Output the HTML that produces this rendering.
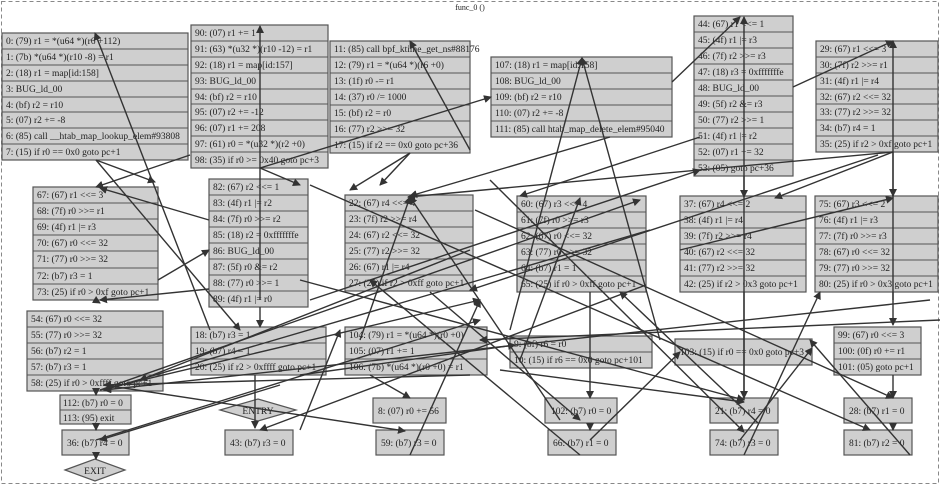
<!DOCTYPE html>
<html><head><meta charset="utf-8"><style>
html,body{margin:0;padding:0;background:#fff;}
svg{display:block;}
text{font-family:"Liberation Serif",serif;font-size:9.5px;fill:#222;}
.b{fill:#cfcfcf;stroke:#555;stroke-width:1.2;}
.r{stroke:#555;stroke-width:1;}
.e{stroke:#333;stroke-width:1.4;fill:none;}
</style></head><body>
<svg width="940" height="486" viewBox="0 0 940 486" xmlns="http://www.w3.org/2000/svg">
<defs><marker id="a" markerWidth="8" markerHeight="8" refX="7" refY="4" orient="auto" markerUnits="userSpaceOnUse"><path d="M0,0 L8,4 L0,8z" fill="#333"/></marker></defs>
<rect x="1.5" y="1.5" width="937" height="482" fill="none" stroke="#888" stroke-dasharray="4,3"/>
<text x="470" y="10" text-anchor="middle" style="font-size:8px">func_0 ()</text>

<!-- Box A -->
<rect class="b" x="2" y="33" width="186" height="127"/>
<g class="r"><line x1="2" y1="49" x2="188" y2="49"/><line x1="2" y1="65" x2="188" y2="65"/><line x1="2" y1="81" x2="188" y2="81"/><line x1="2" y1="97" x2="188" y2="97"/><line x1="2" y1="112" x2="188" y2="112"/><line x1="2" y1="128" x2="188" y2="128"/><line x1="2" y1="144" x2="188" y2="144"/></g>
<text x="6" y="44">0: (79) r1 = *(u64 *)(r6 +112)</text><text x="6" y="60">1: (7b) *(u64 *)(r10 -8) = r1</text><text x="6" y="76">2: (18) r1 = map[id:158]</text><text x="6" y="92">3: BUG_ld_00</text><text x="6" y="108">4: (bf) r2 = r10</text><text x="6" y="123">5: (07) r2 += -8</text><text x="6" y="139">6: (85) call __htab_map_lookup_elem#93808</text><text x="6" y="155">7: (15) if r0 == 0x0 goto pc+1</text>

<!-- Box B -->
<rect class="b" x="191" y="25" width="137" height="143"/>
<g class="r"><line x1="191" y1="41" x2="328" y2="41"/><line x1="191" y1="57" x2="328" y2="57"/><line x1="191" y1="73" x2="328" y2="73"/><line x1="191" y1="89" x2="328" y2="89"/><line x1="191" y1="104" x2="328" y2="104"/><line x1="191" y1="120" x2="328" y2="120"/><line x1="191" y1="136" x2="328" y2="136"/><line x1="191" y1="152" x2="328" y2="152"/></g>
<text x="195" y="36">90: (07) r1 += 1</text><text x="195" y="52">91: (63) *(u32 *)(r10 -12) = r1</text><text x="195" y="68">92: (18) r1 = map[id:157]</text><text x="195" y="84">93: BUG_ld_00</text><text x="195" y="100">94: (bf) r2 = r10</text><text x="195" y="115">95: (07) r2 += -12</text><text x="195" y="131">96: (07) r1 += 208</text><text x="195" y="147">97: (61) r0 = *(u32 *)(r2 +0)</text><text x="195" y="163">98: (35) if r0 >= 0x40 goto pc+3</text>

<!-- Box C -->
<rect class="b" x="330" y="41" width="140" height="112"/>
<g class="r"><line x1="330" y1="57" x2="470" y2="57"/><line x1="330" y1="73" x2="470" y2="73"/><line x1="330" y1="89" x2="470" y2="89"/><line x1="330" y1="105" x2="470" y2="105"/><line x1="330" y1="121" x2="470" y2="121"/><line x1="330" y1="137" x2="470" y2="137"/></g>
<text x="334" y="52">11: (85) call bpf_ktime_get_ns#88176</text><text x="334" y="68">12: (79) r1 = *(u64 *)(r6 +0)</text><text x="334" y="84">13: (1f) r0 -= r1</text><text x="334" y="100">14: (37) r0 /= 1000</text><text x="334" y="116">15: (bf) r2 = r0</text><text x="334" y="132">16: (77) r2 >>= 32</text><text x="334" y="148">17: (15) if r2 == 0x0 goto pc+36</text>

<!-- Box D -->
<rect class="b" x="491" y="57" width="181" height="80"/>
<g class="r"><line x1="491" y1="73" x2="672" y2="73"/><line x1="491" y1="89" x2="672" y2="89"/><line x1="491" y1="105" x2="672" y2="105"/><line x1="491" y1="121" x2="672" y2="121"/></g>
<text x="495" y="68">107: (18) r1 = map[id:158]</text><text x="495" y="84">108: BUG_ld_00</text><text x="495" y="100">109: (bf) r2 = r10</text><text x="495" y="116">110: (07) r2 += -8</text><text x="495" y="132">111: (85) call htab_map_delete_elem#95040</text>

<!-- Box E -->
<rect class="b" x="694" y="16" width="99" height="160"/>
<g class="r"><line x1="694" y1="32" x2="793" y2="32"/><line x1="694" y1="48" x2="793" y2="48"/><line x1="694" y1="64" x2="793" y2="64"/><line x1="694" y1="80" x2="793" y2="80"/><line x1="694" y1="96" x2="793" y2="96"/><line x1="694" y1="112" x2="793" y2="112"/><line x1="694" y1="128" x2="793" y2="128"/><line x1="694" y1="144" x2="793" y2="144"/><line x1="694" y1="160" x2="793" y2="160"/></g>
<text x="698" y="27">44: (67) r1 &lt;&lt;= 1</text><text x="698" y="43">45: (4f) r1 |= r3</text><text x="698" y="59">46: (7f) r2 >>= r3</text><text x="698" y="75">47: (18) r3 = 0xfffffffe</text><text x="698" y="91">48: BUG_ld_00</text><text x="698" y="107">49: (5f) r2 &amp;= r3</text><text x="698" y="123">50: (77) r2 >>= 1</text><text x="698" y="139">51: (4f) r1 |= r2</text><text x="698" y="155">52: (07) r1 += 32</text><text x="698" y="171">53: (05) goto pc+36</text>

<!-- Box F -->
<rect class="b" x="816" y="41" width="122" height="111"/>
<g class="r"><line x1="816" y1="57" x2="938" y2="57"/><line x1="816" y1="73" x2="938" y2="73"/><line x1="816" y1="89" x2="938" y2="89"/><line x1="816" y1="104" x2="938" y2="104"/><line x1="816" y1="120" x2="938" y2="120"/><line x1="816" y1="136" x2="938" y2="136"/></g>
<text x="820" y="52">29: (67) r1 &lt;&lt;= 3</text><text x="820" y="68">30: (7f) r2 >>= r1</text><text x="820" y="84">31: (4f) r1 |= r4</text><text x="820" y="100">32: (67) r2 &lt;&lt;= 32</text><text x="820" y="115">33: (77) r2 >>= 32</text><text x="820" y="131">34: (b7) r4 = 1</text><text x="820" y="147">35: (25) if r2 > 0xf goto pc+1</text>

<!-- Box G -->
<rect class="b" x="33" y="187" width="125" height="113"/>
<g class="r"><line x1="33" y1="203" x2="158" y2="203"/><line x1="33" y1="219" x2="158" y2="219"/><line x1="33" y1="235" x2="158" y2="235"/><line x1="33" y1="251" x2="158" y2="251"/><line x1="33" y1="268" x2="158" y2="268"/><line x1="33" y1="284" x2="158" y2="284"/></g>
<text x="37" y="198">67: (67) r1 &lt;&lt;= 3</text><text x="37" y="214">68: (7f) r0 >>= r1</text><text x="37" y="230">69: (4f) r1 |= r3</text><text x="37" y="246">70: (67) r0 &lt;&lt;= 32</text><text x="37" y="262">71: (77) r0 >>= 32</text><text x="37" y="279">72: (b7) r3 = 1</text><text x="37" y="295">73: (25) if r0 > 0xf goto pc+1</text>

<!-- Box H -->
<rect class="b" x="209" y="179" width="99" height="128"/>
<g class="r"><line x1="209" y1="195" x2="308" y2="195"/><line x1="209" y1="211" x2="308" y2="211"/><line x1="209" y1="227" x2="308" y2="227"/><line x1="209" y1="243" x2="308" y2="243"/><line x1="209" y1="259" x2="308" y2="259"/><line x1="209" y1="275" x2="308" y2="275"/><line x1="209" y1="291" x2="308" y2="291"/></g>
<text x="213" y="190">82: (67) r2 &lt;&lt;= 1</text><text x="213" y="206">83: (4f) r1 |= r2</text><text x="213" y="222">84: (7f) r0 >>= r2</text><text x="213" y="238">85: (18) r2 = 0xfffffffe</text><text x="213" y="254">86: BUG_ld_00</text><text x="213" y="270">87: (5f) r0 &amp;= r2</text><text x="213" y="286">88: (77) r0 >>= 1</text><text x="213" y="302">89: (4f) r1 |= r0</text>

<!-- Box I -->
<rect class="b" x="345" y="195" width="128" height="96"/>
<g class="r"><line x1="345" y1="211" x2="473" y2="211"/><line x1="345" y1="227" x2="473" y2="227"/><line x1="345" y1="243" x2="473" y2="243"/><line x1="345" y1="259" x2="473" y2="259"/><line x1="345" y1="275" x2="473" y2="275"/></g>
<text x="349" y="206">22: (67) r4 &lt;&lt;= 4</text><text x="349" y="222">23: (7f) r2 >>= r4</text><text x="349" y="238">24: (67) r2 &lt;&lt;= 32</text><text x="349" y="254">25: (77) r2 >>= 32</text><text x="349" y="270">26: (67) r1 |= r4</text><text x="349" y="286">27: (25) if r2 > 0xff goto pc+1</text>

<!-- Box J -->
<rect class="b" x="517" y="196" width="129" height="96"/>
<g class="r"><line x1="517" y1="212" x2="646" y2="212"/><line x1="517" y1="228" x2="646" y2="228"/><line x1="517" y1="244" x2="646" y2="244"/><line x1="517" y1="260" x2="646" y2="260"/><line x1="517" y1="276" x2="646" y2="276"/></g>
<text x="521" y="207">60: (67) r3 &lt;&lt;= 4</text><text x="521" y="223">61: (7f) r0 >>= r3</text><text x="521" y="239">62: (67) r0 &lt;&lt;= 32</text><text x="521" y="255">63: (77) r0 >>= 32</text><text x="521" y="271">64: (b7) r1 = 1</text><text x="521" y="287">65: (25) if r0 > 0xff goto pc+1</text>

<!-- Box K -->
<rect class="b" x="680" y="196" width="126" height="96"/>
<g class="r"><line x1="680" y1="212" x2="806" y2="212"/><line x1="680" y1="228" x2="806" y2="228"/><line x1="680" y1="244" x2="806" y2="244"/><line x1="680" y1="260" x2="806" y2="260"/><line x1="680" y1="276" x2="806" y2="276"/></g>
<text x="684" y="207">37: (67) r4 &lt;&lt;= 2</text><text x="684" y="223">38: (4f) r1 |= r4</text><text x="684" y="239">39: (7f) r2 >>= r4</text><text x="684" y="255">40: (67) r2 &lt;&lt;= 32</text><text x="684" y="271">41: (77) r2 >>= 32</text><text x="684" y="287">42: (25) if r2 > 0x3 goto pc+1</text>

<!-- Box L -->
<rect class="b" x="815" y="196" width="123" height="96"/>
<g class="r"><line x1="815" y1="212" x2="938" y2="212"/><line x1="815" y1="228" x2="938" y2="228"/><line x1="815" y1="244" x2="938" y2="244"/><line x1="815" y1="260" x2="938" y2="260"/><line x1="815" y1="276" x2="938" y2="276"/></g>
<text x="819" y="207">75: (67) r3 &lt;&lt;= 2</text><text x="819" y="223">76: (4f) r1 |= r3</text><text x="819" y="239">77: (7f) r0 >>= r3</text><text x="819" y="255">78: (67) r0 &lt;&lt;= 32</text><text x="819" y="271">79: (77) r0 >>= 32</text><text x="819" y="287">80: (25) if r0 > 0x3 goto pc+1</text>

<!-- Box M -->
<rect class="b" x="27" y="311" width="136" height="80"/>
<g class="r"><line x1="27" y1="327" x2="163" y2="327"/><line x1="27" y1="343" x2="163" y2="343"/><line x1="27" y1="359" x2="163" y2="359"/><line x1="27" y1="375" x2="163" y2="375"/></g>
<text x="31" y="322">54: (67) r0 &lt;&lt;= 32</text><text x="31" y="338">55: (77) r0 >>= 32</text><text x="31" y="354">56: (b7) r2 = 1</text><text x="31" y="370">57: (b7) r3 = 1</text><text x="31" y="386">58: (25) if r0 > 0xffff goto pc+1</text>

<!-- Box N -->
<rect class="b" x="191" y="327" width="135" height="48"/>
<g class="r"><line x1="191" y1="343" x2="326" y2="343"/><line x1="191" y1="359" x2="326" y2="359"/></g>
<text x="195" y="338">18: (b7) r3 = 1</text><text x="195" y="354">19: (b7) r4 = 1</text><text x="195" y="370">20: (25) if r2 > 0xffff goto pc+1</text>

<!-- Box O -->
<rect class="b" x="345" y="327" width="142" height="48"/>
<g class="r"><line x1="345" y1="343" x2="487" y2="343"/><line x1="345" y1="359" x2="487" y2="359"/></g>
<text x="349" y="338">104: (79) r1 = *(u64 *)(r0 +0)</text><text x="349" y="354">105: (07) r1 += 1</text><text x="349" y="370">106: (7b) *(u64 *)(r0 +0) = r1</text>

<!-- P -->
<rect class="b" x="510" y="336" width="142" height="32"/>
<line class="r" x1="510" y1="352" x2="652" y2="352"/>
<text x="514" y="347">9: (bf) r6 = r0</text><text x="514" y="363">10: (15) if r6 == 0x0 goto pc+101</text>

<!-- Q -->
<rect class="b" x="675" y="339" width="137" height="26"/>
<text x="680" y="355">103: (15) if r0 == 0x0 goto pc+3</text>

<!-- R -->
<rect class="b" x="834" y="327" width="87" height="48"/>
<g class="r"><line x1="834" y1="343" x2="921" y2="343"/><line x1="834" y1="359" x2="921" y2="359"/></g>
<text x="838" y="338">99: (67) r0 &lt;&lt;= 3</text><text x="838" y="354">100: (0f) r0 += r1</text><text x="838" y="370">101: (05) goto pc+1</text>

<!-- S -->
<rect class="b" x="60" y="395" width="71" height="29"/>
<line class="r" x1="60" y1="410" x2="131" y2="410"/>
<text x="63" y="406">112: (b7) r0 = 0</text><text x="63" y="421">113: (95) exit</text>

<!-- small boxes -->
<rect class="b" x="62" y="430" width="67" height="25"/><text x="67" y="446">36: (b7) r4 = 0</text>
<rect class="b" x="225" y="430" width="68" height="25"/><text x="230" y="446">43: (b7) r3 = 0</text>
<rect class="b" x="373" y="398" width="73" height="25"/><text x="378" y="414">8: (07) r0 += 56</text>
<rect class="b" x="376" y="430" width="68" height="25"/><text x="381" y="446">59: (b7) r3 = 0</text>
<rect class="b" x="545" y="398" width="72" height="25"/><text x="551" y="414">102: (b7) r0 = 0</text>
<rect class="b" x="548" y="430" width="68" height="25"/><text x="553" y="446">66: (b7) r1 = 0</text>
<rect class="b" x="710" y="398" width="68" height="25"/><text x="715" y="414">21: (b7) r4 = 0</text>
<rect class="b" x="710" y="430" width="68" height="25"/><text x="715" y="446">74: (b7) r3 = 0</text>
<rect class="b" x="844" y="398" width="68" height="25"/><text x="849" y="414">28: (b7) r1 = 0</text>
<rect class="b" x="844" y="430" width="68" height="25"/><text x="849" y="446">81: (b7) r2 = 0</text>

<polygon class="b" points="65,470 95,459 125,470 95,481"/><text x="95" y="474" text-anchor="middle">EXIT</text>
<polygon class="b" points="220,410 258,399 296,410 258,421"/><text x="258" y="414" text-anchor="middle">ENTRY</text>

<!-- edges -->
<g class="e" marker-end="url(#a)">
<path d="M210,330 L95,33"/>
<path d="M96,160 L155,182"/>
<path d="M96,160 L240,330"/>
<path d="M260,300 L260,26"/>
<path d="M260,168 L491,97"/>
<path d="M260,168 L300,185"/>
<path d="M470,150 L410,41"/>
<path d="M410,153 L380,185"/>
<path d="M410,153 L350,190"/>
<path d="M510,330 L582,58"/>
<path d="M660,340 L582,58"/>
<path d="M610,137 L410,196"/>
<path d="M672,82 L740,17"/>
<path d="M744,400 L744,17"/>
<path d="M744,176 L744,197"/>
<path d="M793,87 L893,41"/>
<path d="M893,300 L893,41"/>
<path d="M893,152 L775,198"/>
<path d="M893,152 L408,197"/>
<path d="M893,152 L893,196"/>
<path d="M680,250 L893,198"/>
<path d="M700,137 L520,196"/>
<path d="M520,360 L580,198"/>
<path d="M560,420 L410,197"/>
<path d="M360,340 L410,197"/>
<path d="M190,155 L96,187"/>
<path d="M95,300 L100,303"/>
<path d="M209,220 L100,188"/>
<path d="M158,280 L209,250"/>
<path d="M209,289 L100,300"/>
<path d="M260,307 L260,327"/>
<path d="M300,375 L515,345"/>
<path d="M255,375 L255,428"/>
<path d="M96,391 L96,395"/>
<path d="M96,424 L96,430"/>
<path d="M96,455 L96,459"/>
<path d="M104,385 L405,431"/>
<path d="M370,375 L410,398"/>
<path d="M470,375 L104,385"/>
<path d="M410,455 L480,300"/>
<path d="M930,300 L104,390"/>
<path d="M650,230 L104,390"/>
<path d="M646,285 L260,430"/>
<path d="M590,292 L590,398"/>
<path d="M590,423 L590,430"/>
<path d="M590,440 L680,352"/>
<path d="M580,455 L370,280"/>
<path d="M430,292 L580,420"/>
<path d="M300,280 L744,400"/>
<path d="M744,292 L744,398"/>
<path d="M500,370 L744,402"/>
<path d="M758,423 L620,292"/>
<path d="M744,455 L820,292"/>
<path d="M490,180 L744,432"/>
<path d="M310,185 L870,430"/>
<path d="M893,292 L893,325"/>
<path d="M893,375 L893,398"/>
<path d="M893,423 L893,430"/>
<path d="M740,440 L812,348"/>
<path d="M910,455 L810,340"/>
<path d="M878,155 L470,290"/>
<path d="M940,320 L480,340"/>
<path d="M100,390 L480,300"/>
<path d="M100,390 L640,200"/>
<path d="M475,210 L893,398"/>
<path d="M470,250 L140,380"/>
<path d="M310,300 L700,170"/>
<path d="M280,385 L100,440"/>
<path d="M300,430 L340,330"/>
<path d="M96,440 L480,320"/>
</g>
</svg>
</body></html>
